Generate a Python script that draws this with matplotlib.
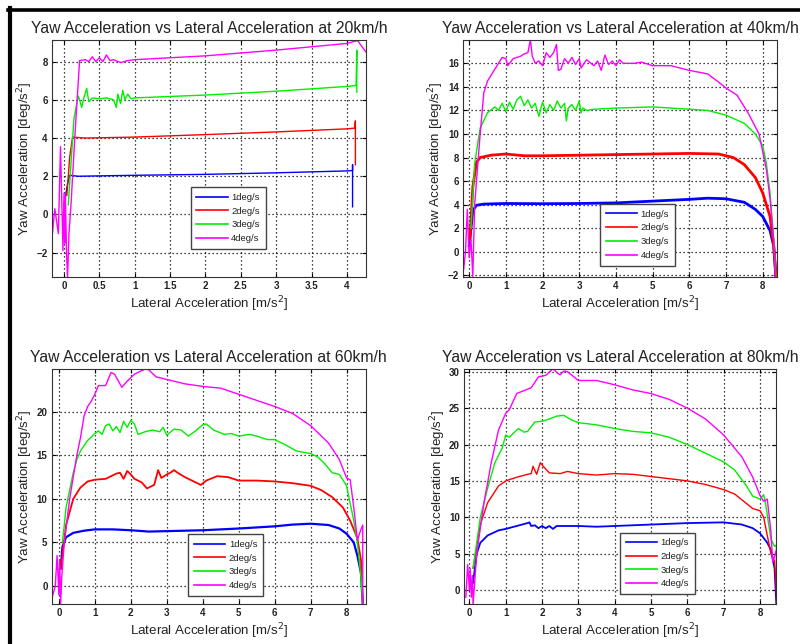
import matplotlib
matplotlib.use("Agg")
import matplotlib.pyplot as plt
from matplotlib.lines import Line2D
import numpy as np

plt.rcParams['font.family'] = ['Liberation Sans', 'DejaVu Sans']

labels = ['1deg/s', '2deg/s', '3deg/s', '4deg/s']
colors = ['#0000ff', '#ff0000', '#00ee00', '#ff00ff']

# ---------------- 20 km/h ----------------
s20_blue_x = [0.0, 0.05, 0.08, 0.2, 0.5, 1.0, 2.0, 3.0, 4.0, 4.08, 4.08, 4.08]
s20_blue_y = [0.5, 1.6, 2.05, 2.0, 2.02, 2.05, 2.1, 2.18, 2.28, 2.3, 2.6, 0.4]
s20_red_x = [0.04, 0.08, 0.12, 0.3, 1.0, 2.0, 3.0, 4.0, 4.11, 4.12, 4.12]
s20_red_y = [1.0, 3.0, 4.05, 4.0, 4.05, 4.18, 4.32, 4.48, 4.52, 4.9, 2.6]
s20_green_x = [0.06, 0.14, 0.2, 0.22, 0.25, 0.28, 0.32, 0.35, 0.4, 0.5, 0.6, 0.7, 0.74, 0.76,
               0.8, 0.83, 0.86, 0.9, 0.95, 1.0, 2.0, 3.0, 4.0, 4.13, 4.14, 4.14]
s20_green_y = [0.5, 5.0, 6.2, 6.0, 5.6, 6.1, 6.6, 5.9, 6.1, 6.05, 6.1, 6.0, 5.6, 6.3,
               5.8, 6.5, 6.0, 6.3, 6.05, 6.1, 6.25, 6.45, 6.7, 6.75, 8.6, 6.4]
s20_mag_x = [-0.18, -0.13, -0.08, -0.05, -0.03, -0.015, 0.0, 0.01, 0.02, 0.035, 0.05, 0.07, 0.1,
             0.16, 0.22, 0.3, 0.35, 0.4, 0.45, 0.5, 0.55, 0.6, 0.65, 0.7, 0.8, 0.9, 1.0,
             1.5, 2.0, 3.0, 4.0, 4.15, 4.27]
s20_mag_y = [-1.6, 0.3, -1.0, 3.55, 0.5, -1.9, 1.1, -1.5, 1.0, -2.0, -3.3, -1.0, 0.6,
             4.5, 8.05, 8.1, 8.0, 8.25, 8.0, 8.2, 8.0, 8.35, 8.05, 8.1, 7.95, 8.05, 8.1,
             8.2, 8.3, 8.6, 8.95, 9.1, 8.5]

# ---------------- 40 km/h ----------------
s40_blue_x = [0.0, 0.1, 0.2, 0.4, 1.0, 2.0, 3.0, 4.0, 5.0, 6.0, 6.5, 7.0, 7.5, 7.8, 8.0, 8.2, 8.3, 8.36]
s40_blue_y = [0.5, 3.5, 3.95, 4.05, 4.1, 4.08, 4.1, 4.15, 4.3, 4.45, 4.55, 4.5, 4.2, 3.6, 3.0, 1.8, 0.5, -2.1]
s40_red_x = [0.02, 0.1, 0.2, 0.3, 0.6, 1.0, 1.5, 2.0, 3.0, 4.0, 5.0, 6.0, 6.8, 7.2, 7.5, 7.8, 8.0, 8.2, 8.3, 8.36]
s40_red_y = [1.0, 5.5, 7.6, 8.0, 8.2, 8.3, 8.15, 8.15, 8.2, 8.25, 8.3, 8.35, 8.3, 8.0, 7.4, 6.3, 5.0, 3.0, 0.5, -2.1]
s40_green_x = [0.05, 0.15, 0.3, 0.5, 0.7, 0.8, 0.9, 1.0, 1.1, 1.2, 1.3, 1.4, 1.5, 1.6, 1.7, 1.8, 1.9,
               2.0, 2.1, 2.2, 2.3, 2.4, 2.5, 2.6, 2.65, 2.7, 2.8, 2.9, 3.0, 3.05, 3.1, 3.2, 3.4,
               4.0, 5.0, 6.0, 6.5, 7.0, 7.5, 7.8, 8.0, 8.1, 8.2, 8.3, 8.36]
s40_green_y = [2.0, 7.5, 10.5, 11.8, 12.3, 12.0, 12.6, 11.9, 12.7, 12.1, 12.9, 13.2, 12.4, 12.9, 12.2, 12.6, 11.5,
               12.7, 11.8, 12.5, 12.0, 12.8, 12.2, 12.6, 11.1, 12.2, 12.5, 12.0, 12.8, 11.8, 12.2, 12.0, 12.1,
               12.2, 12.3, 12.1, 12.0, 11.6, 10.9, 10.0, 9.0, 7.5, 5.0, 1.0, -2.1]
s40_mag_x = [-0.15, -0.1, -0.05, 0.0, 0.05, 0.1, 0.15, 0.3, 0.4, 0.5, 0.6, 0.7, 0.8, 0.9, 1.0, 1.05,
             1.2, 1.4, 1.5, 1.6, 1.67, 1.72, 1.8, 1.9, 2.0, 2.1, 2.2, 2.3, 2.38, 2.43, 2.5, 2.6,
             2.7, 2.8, 2.9, 3.0, 3.05, 3.2, 3.4, 3.5, 3.6, 3.7, 3.8, 3.9, 4.0, 4.1, 4.2,
             4.5, 4.7, 5.0, 5.5, 6.0, 6.5, 6.8, 7.0, 7.3, 7.6, 7.9, 8.1, 8.2, 8.3, 8.35]
s40_mag_y = [-1.5, 0.0, 3.6, -0.5, 1.0, -2.1, 4.0, 10.0, 13.5, 14.5, 15.0, 15.5, 16.0, 16.5, 16.4, 15.8,
             16.4, 16.6, 16.8, 16.9, 18.0, 16.6, 16.0, 16.2, 15.8, 16.9, 16.5, 16.9, 17.6, 15.4, 15.5, 16.4,
             16.0, 16.5, 15.9, 16.4, 15.6, 16.3, 15.8, 16.2, 15.4, 16.7, 15.9, 16.2, 15.8, 16.3, 16.0,
             16.0, 16.1, 15.8, 15.8, 15.4, 15.1, 14.4, 13.9, 13.3, 11.8, 10.0, 7.0, 4.5, 1.0, -2.1]

# ---------------- 60 km/h ----------------
s60_blue_x = [0.05, 0.1, 0.2, 0.4, 0.7, 1.0, 1.5, 2.0, 2.5, 3.0, 4.0, 5.0, 6.0, 6.5, 7.0, 7.5, 7.8, 8.0, 8.2, 8.3, 8.4, 8.45]
s60_blue_y = [2.0, 4.5, 5.6, 6.1, 6.35, 6.5, 6.5, 6.4, 6.25, 6.3, 6.4, 6.6, 6.85, 7.05, 7.15, 7.0, 6.6, 6.0, 5.0, 3.5, 1.5, -2.0]
s60_red_x = [0.05, 0.2, 0.4, 0.6, 0.8, 1.0, 1.3, 1.6, 1.7, 1.8, 1.9, 2.0, 2.1, 2.3, 2.45, 2.55, 2.65, 2.76, 2.85,
             3.0, 3.1, 3.2, 3.3, 3.5, 3.8, 3.95, 4.1, 4.4, 4.7, 5.0, 5.5, 6.0, 6.5, 7.0, 7.3, 7.6, 7.9, 8.1,
             8.2, 8.3, 8.4, 8.45]
s60_red_y = [2.0, 7.0, 10.0, 11.3, 12.0, 12.2, 12.3, 12.9, 13.0, 12.3, 13.2, 12.8, 12.3, 11.9, 11.2, 11.4, 11.6, 13.3, 12.4,
             12.8, 13.0, 13.3, 13.0, 12.5, 11.9, 11.6, 12.1, 12.6, 12.5, 12.1, 12.1, 12.0, 11.8, 11.5, 11.0, 10.2, 9.0, 7.5,
             6.5, 5.5, 3.0, -2.0]
s60_green_x = [0.1, 0.2, 0.4, 0.5, 0.6, 0.8, 1.0, 1.1, 1.2, 1.3, 1.4, 1.5, 1.6, 1.7, 1.8, 1.9, 2.0, 2.1, 2.2,
               2.4, 2.6, 2.8, 2.9, 3.0, 3.2, 3.4, 3.6, 3.8, 4.0, 4.1, 4.3, 4.6, 4.8, 5.0, 5.3, 5.5, 5.8, 6.0,
               6.3, 6.6, 7.0, 7.2, 7.4, 7.6, 7.8, 8.0, 8.1, 8.2, 8.3, 8.4, 8.45]
s60_green_y = [5.0, 9.0, 13.0, 14.5, 15.5, 16.7, 17.5, 17.8, 17.4, 18.4, 18.6, 17.8, 18.3, 17.6, 18.9, 18.2, 19.0, 18.6, 17.4,
               17.7, 17.9, 17.7, 18.2, 17.3, 18.0, 17.9, 17.2, 17.8, 18.5, 18.6, 17.9, 17.4, 17.5, 17.2, 17.4, 17.2, 16.8, 16.8,
               16.2, 15.5, 15.2, 14.8, 14.0, 13.0, 12.8, 11.5, 9.5, 7.5, 5.0, 1.0, -2.0]
s60_mag_x = [-0.2, -0.1, -0.05, 0.0, 0.02, 0.05, 0.08, 0.15, 0.3, 0.5, 0.6, 0.7, 0.8, 0.9, 1.0, 1.1, 1.3,
             1.45, 1.55, 1.75, 1.9, 2.1, 2.4, 2.5, 2.7, 3.0, 3.5, 4.0, 4.5, 5.0, 5.5, 6.0, 6.5, 7.0, 7.5,
             7.8, 8.0, 8.1, 8.2, 8.3, 8.4, 8.45, 8.45]
s60_mag_y = [-1.5, 0.0, 3.5, -1.0, 3.0, -2.0, 1.0, 5.0, 10.0, 15.0, 17.0, 19.5, 20.6, 21.2, 22.0, 23.0, 23.0,
             24.5, 24.3, 22.8, 23.5, 24.3, 24.9, 24.8, 24.0, 23.7, 23.2, 22.9, 22.7, 22.0, 21.3, 20.6, 19.8, 18.4, 16.4,
             14.5, 12.4, 12.2, 9.0, 5.3, 6.5, 7.0, -2.0]

# ---------------- 80 km/h ----------------
s80_blue_x = [0.1, 0.2, 0.3, 0.5, 0.8, 1.0, 1.3, 1.6, 1.65, 1.7, 1.8, 1.9, 2.0, 2.1, 2.2, 2.3, 2.4,
              3.0, 3.5, 4.0, 5.0, 6.0, 7.0, 7.5, 7.8, 8.0, 8.2, 8.3, 8.4, 8.45]
s80_blue_y = [1.0, 5.0, 6.5, 7.5, 8.2, 8.4, 8.8, 9.2, 9.3, 8.8, 8.9, 8.5, 8.8, 8.5, 8.8, 8.4, 8.8,
              8.8, 8.7, 8.8, 9.0, 9.2, 9.3, 9.0, 8.5, 7.8, 6.5, 5.5, 3.0, -2.0]
s80_red_x = [0.1, 0.3, 0.5, 0.8, 1.0, 1.3, 1.6, 1.7, 1.75, 1.85, 1.95, 2.05, 2.2, 2.5, 2.7, 3.0, 3.5, 4.0,
             4.5, 5.0, 5.5, 6.0, 6.5, 7.0, 7.3, 7.6, 7.8, 8.0, 8.1, 8.2, 8.3, 8.4, 8.47]
s80_red_y = [3.0, 9.0, 12.0, 14.3, 15.0, 15.5, 15.9, 16.0, 17.0, 15.9, 17.5, 16.9, 16.1, 16.0, 16.3, 16.0, 15.8, 16.0,
             15.9, 15.6, 15.3, 15.0, 14.5, 13.8, 13.2, 12.0, 11.2, 10.9, 10.0, 7.5, 5.0, 4.0, -2.0]
s80_green_x = [0.1, 0.3, 0.5, 0.7, 0.9, 1.0, 1.1, 1.2, 1.35, 1.5, 1.6, 1.8, 2.0, 2.2, 2.4, 2.6, 2.8, 3.0,
               3.5, 4.0, 4.5, 5.0, 5.5, 6.0, 6.5, 7.0, 7.3, 7.6, 7.8, 8.0, 8.1, 8.15, 8.3, 8.4, 8.45, 8.47]
s80_green_y = [3.0, 10.0, 14.0, 17.5, 19.5, 21.3, 21.0, 21.5, 22.2, 21.7, 21.8, 23.1, 23.2, 23.5, 23.9, 24.0, 23.4, 23.0,
               22.7, 22.2, 21.8, 21.6, 21.0, 20.0, 18.8, 17.6, 16.5, 14.5, 12.9, 12.5, 13.1, 12.0, 7.0, 6.0, 6.2, -2.0]
s80_mag_x = [-0.1, -0.05, 0.0, 0.02, 0.05, 0.08, 0.1, 0.2, 0.4, 0.6, 0.8, 1.0, 1.1, 1.3, 1.5, 1.7, 1.9,
             2.1, 2.3, 2.45, 2.5, 2.6, 2.7, 3.0, 3.5, 4.0, 4.5, 5.0, 5.5, 6.0, 6.5, 7.0, 7.5, 7.8, 8.0,
             8.1, 8.2, 8.3, 8.35, 8.45, 8.47]
s80_mag_y = [-1.0, 3.5, 0.0, 3.0, -1.0, 2.0, -2.0, 5.0, 12.0, 17.5, 22.0, 24.3, 24.8, 27.0, 27.4, 27.8, 29.3,
             29.5, 30.4, 29.7, 29.6, 30.1, 30.0, 28.8, 28.8, 28.2, 27.5, 27.0, 26.2, 25.0, 23.5, 21.3, 18.3, 15.5, 13.0,
             12.2, 12.5, 8.0, 3.8, 5.5, -2.0]

panels = [
    dict(title='Yaw Acceleration vs Lateral Acceleration at 20km/h',
         series=[(s20_blue_x, s20_blue_y), (s20_red_x, s20_red_y), (s20_green_x, s20_green_y), (s20_mag_x, s20_mag_y)],
         xlim=(-0.17, 4.27), ylim=(-3.27, 9.13),
         xticks=[0, 0.5, 1, 1.5, 2, 2.5, 3, 3.5, 4], yticks=[-2, 0, 2, 4, 6, 8],
         rect=[0.065, 0.5699, 0.3925, 0.368], leg=(0.4417, 0.119), lw=[1.0, 1.0, 1.0, 1.0]),
    dict(title='Yaw Acceleration vs Lateral Acceleration at 40km/h',
         series=[(s40_blue_x, s40_blue_y), (s40_red_x, s40_red_y), (s40_green_x, s40_green_y), (s40_mag_x, s40_mag_y)],
         xlim=(-0.16, 8.38), ylim=(-2.14, 17.98),
         xticks=list(range(0, 9)), yticks=list(range(-2, 17, 2)),
         rect=[0.5791, 0.5699, 0.3917, 0.368], leg=(0.436, 0.048), lw=[2.0, 2.0, 1.0, 1.0]),
    dict(title='Yaw Acceleration vs Lateral Acceleration at 60km/h',
         series=[(s60_blue_x, s60_blue_y), (s60_red_x, s60_red_y), (s60_green_x, s60_green_y), (s60_mag_x, s60_mag_y)],
         xlim=(-0.2, 8.54), ylim=(-2.06, 24.86),
         xticks=list(range(0, 9)), yticks=[0, 5, 10, 15, 20],
         rect=[0.0646, 0.0621, 0.3929, 0.3644], leg=(0.4346, 0.035), lw=[1.6, 1.3, 1.0, 1.0]),
    dict(title='Yaw Acceleration vs Lateral Acceleration at 80km/h',
         series=[(s80_blue_x, s80_blue_y), (s80_red_x, s80_red_y), (s80_green_x, s80_green_y), (s80_mag_x, s80_mag_y)],
         xlim=(-0.15, 8.44), ylim=(-1.92, 30.33),
         xticks=list(range(0, 9)), yticks=[0, 5, 10, 15, 20, 25, 30],
         rect=[0.58, 0.0621, 0.39, 0.3644], leg=(0.5, 0.0426), lw=[1.3, 1.0, 1.0, 1.0]),
]

fig = plt.figure(figsize=(8.0, 6.44), dpi=100)
text_col = '#222222'

for p in panels:
    ax = fig.add_axes(p['rect'])
    lines = []
    for (xs, ys), c, lab, lw in zip(p['series'], colors, labels, p['lw']):
        ax.plot(xs, ys, color=c, lw=lw)
        lines.append(Line2D([], [], color=c, lw=1.2))
    ax.set_xlim(*p['xlim'])
    ax.set_ylim(*p['ylim'])
    ax.set_xticks(p['xticks'])
    ax.set_xticklabels([('%g' % t) for t in p['xticks']])
    ax.set_yticks(p['yticks'])
    ax.grid(True, color='black', linestyle=(0, (1, 2.2)), linewidth=0.9)
    ax.tick_params(direction='in', top=True, right=True, length=3, width=0.8,
                   labelsize=7, colors='black', labelcolor=text_col, pad=3)
    for t in ax.get_xticklabels() + ax.get_yticklabels():
        t.set_fontweight('bold')
    for s in ax.spines.values():
        s.set_linewidth(0.8)
        s.set_color('#333333')
    ax.set_title(p['title'], fontsize=11.3, color=text_col, pad=5)
    ax.set_xlabel('Lateral Acceleration [m/s$^2$]', fontsize=9.6, color=text_col, labelpad=2)
    ax.set_ylabel('Yaw Acceleration [deg/s$^2$]', fontsize=9.6, color=text_col, labelpad=1)
    leg = ax.legend(lines, labels, loc='lower left', bbox_to_anchor=p['leg'], borderaxespad=0, fontsize=6.8,
                    handlelength=3.3, handletextpad=0.4, labelspacing=0.5, borderpad=0.6,
                    fancybox=False, framealpha=1, edgecolor='#444444')
    leg.get_frame().set_linewidth(1.0)
    for t in leg.get_texts():
        t.set_color(text_col)

# black frame at left and top (screenshot border)
fig.add_artist(Line2D([10 / 800, 10 / 800], [0, 1 - 8 / 644], transform=fig.transFigure, color='black', lw=3.0))
fig.add_artist(Line2D([8 / 800, 1.0], [1 - 9.5 / 644, 1 - 9.5 / 644], transform=fig.transFigure, color='black', lw=2.6))

fig.savefig('out.png', dpi=100)
